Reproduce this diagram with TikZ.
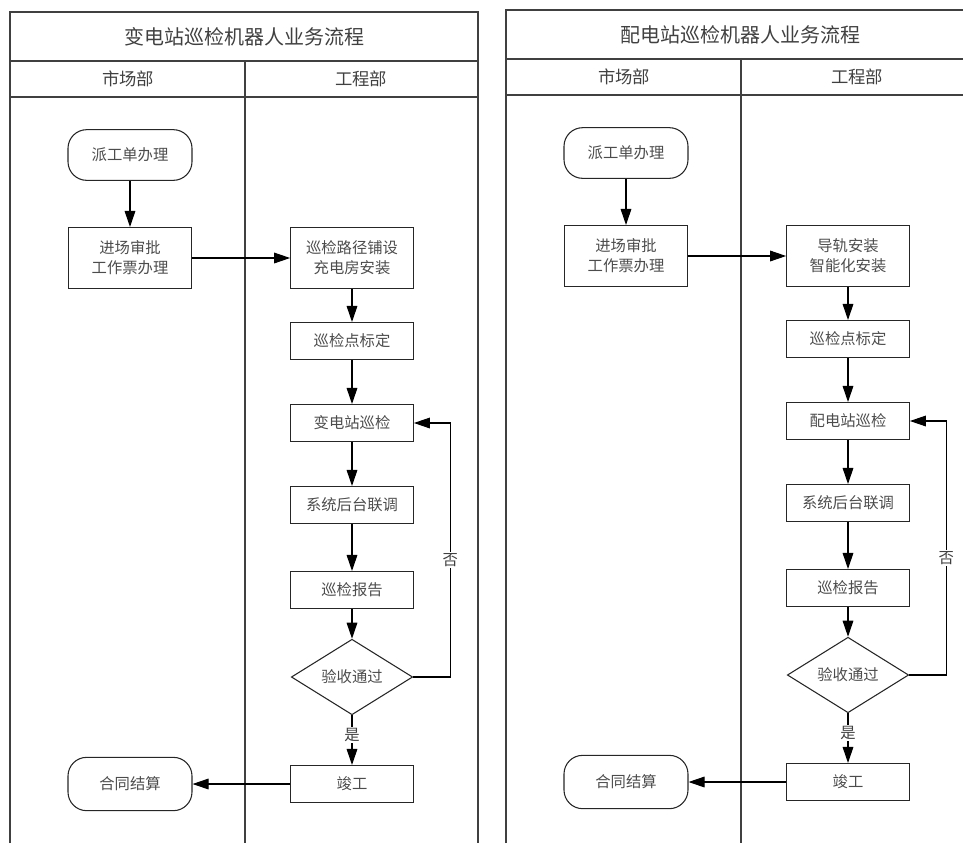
\documentclass[tikz,border=0pt]{standalone}
\usepackage{fontspec}
\newfontfamily\cjk{Noto Sans CJK SC}
\usetikzlibrary{arrows.meta,shapes.geometric}
\tikzset{
  lane/.style={draw=black!75, line width=1pt},
  box/.style={draw=black!85, line width=0.8pt, minimum width=92pt, minimum height=27.75pt,
    inner sep=1pt, align=center, text=black!70, font=\cjk\fontsize{11.5}{15}\selectfont},
  tall/.style={box, minimum height=45.75pt},
  term/.style={box, rounded corners=14pt, minimum width=93pt, minimum height=38pt},
  decide/.style={box, diamond, minimum width=91pt, minimum height=45pt, inner sep=0pt},
  arr/.style={draw=black, line width=0.8pt, -{Triangle[length=12pt,width=8pt]}},
  tag/.style={fill=white, inner sep=1pt, text=black!75, font=\cjk\fontsize{11.5}{14}\selectfont},
  head/.style={text=black!75, font=\cjk\fontsize{13}{15}\selectfont},
  title/.style={text=black!75, font=\cjk\fontsize{15}{18}\selectfont},
}
\begin{document}
\begin{tikzpicture}[x=0.75pt,y=0.75pt,yscale=-1]
\clip (0,0) rectangle (963,843);

%Panel: substation
\begin{scope}
%Shape: Swimlane frame
\draw [lane] (10,843) -- (10,12) -- (478,12) -- (478,843) ;
\draw [lane] (10,61) -- (478,61) ;
\draw [lane] (10,97) -- (478,97) ;
\draw [lane] (245,61) -- (245,843) ;
% Text Node
\node [title] (titleA) at (244,37) {变电站巡检机器人业务流程};
\node [head] (marketA) at (128,79) {市场部};
\node [head] (engA) at (361,79) {工程部};

%Shape: Flow steps
\node [term] (startA) at (130,155) {派工单办理};
\node [tall] (permitA) at (130,258) {进场审批\\工作票办理};
\node [tall] (layA) at (352,258) {巡检路径铺设\\充电房安装};
\node [box] (markA) at (352,341) {巡检点标定};
\node [box] (patrolA) at (352,423) {变电站巡检};
\node [box] (debugA) at (352,505) {系统后台联调};
\node [box] (reportA) at (352,590) {巡检报告};
\node [decide] (checkA) at (352,677) {验收通过};
\node [box] (doneA) at (352,784) {竣工};
\node [term, minimum height=40pt] (settleA) at (130,784) {合同结算};

%Straight Lines
\draw [arr] (startA) -- (permitA) ;
\draw [arr] (permitA) -- (layA) ;
\draw [arr] (layA) -- (markA) ;
\draw [arr] (markA) -- (patrolA) ;
\draw [arr] (patrolA) -- (debugA) ;
\draw [arr] (debugA) -- (reportA) ;
\draw [arr] (reportA) -- (checkA) ;
\draw [arr] (checkA) -- node [tag, pos=0.4] {是} (doneA) ;
\draw [arr] (checkA.east) -- ++(37,0) |- node [tag, pos=0.23] {否} (patrolA.east) ;
\draw [arr] (doneA) -- (settleA) ;
\end{scope}

%Panel: distribution station
\begin{scope}[shift={(496,-2)}]
%Shape: Swimlane frame
\draw [lane] (10,845) -- (10,12) -- (478,12) -- (478,845) ;
\draw [lane] (10,61) -- (478,61) ;
\draw [lane] (10,97) -- (478,97) ;
\draw [lane] (245,61) -- (245,845) ;
% Text Node
\node [title] (titleB) at (244,37) {配电站巡检机器人业务流程};
\node [head] (marketB) at (128,79) {市场部};
\node [head] (engB) at (361,79) {工程部};

%Shape: Flow steps
\node [term] (startB) at (130,155) {派工单办理};
\node [tall] (permitB) at (130,258) {进场审批\\工作票办理};
\node [tall] (layB) at (352,258) {导轨安装\\智能化安装};
\node [box] (markB) at (352,341) {巡检点标定};
\node [box] (patrolB) at (352,423) {配电站巡检};
\node [box] (debugB) at (352,505) {系统后台联调};
\node [box] (reportB) at (352,590) {巡检报告};
\node [decide] (checkB) at (352,677) {验收通过};
\node [box] (doneB) at (352,784) {竣工};
\node [term, minimum height=40pt] (settleB) at (130,784) {合同结算};

%Straight Lines
\draw [arr] (startB) -- (permitB) ;
\draw [arr] (permitB) -- (layB) ;
\draw [arr] (layB) -- (markB) ;
\draw [arr] (markB) -- (patrolB) ;
\draw [arr] (patrolB) -- (debugB) ;
\draw [arr] (debugB) -- (reportB) ;
\draw [arr] (reportB) -- (checkB) ;
\draw [arr] (checkB) -- node [tag, pos=0.4] {是} (doneB) ;
\draw [arr] (checkB.east) -- ++(37,0) |- node [tag, pos=0.23] {否} (patrolB.east) ;
\draw [arr] (doneB) -- (settleB) ;
\end{scope}

\end{tikzpicture}
\end{document}
